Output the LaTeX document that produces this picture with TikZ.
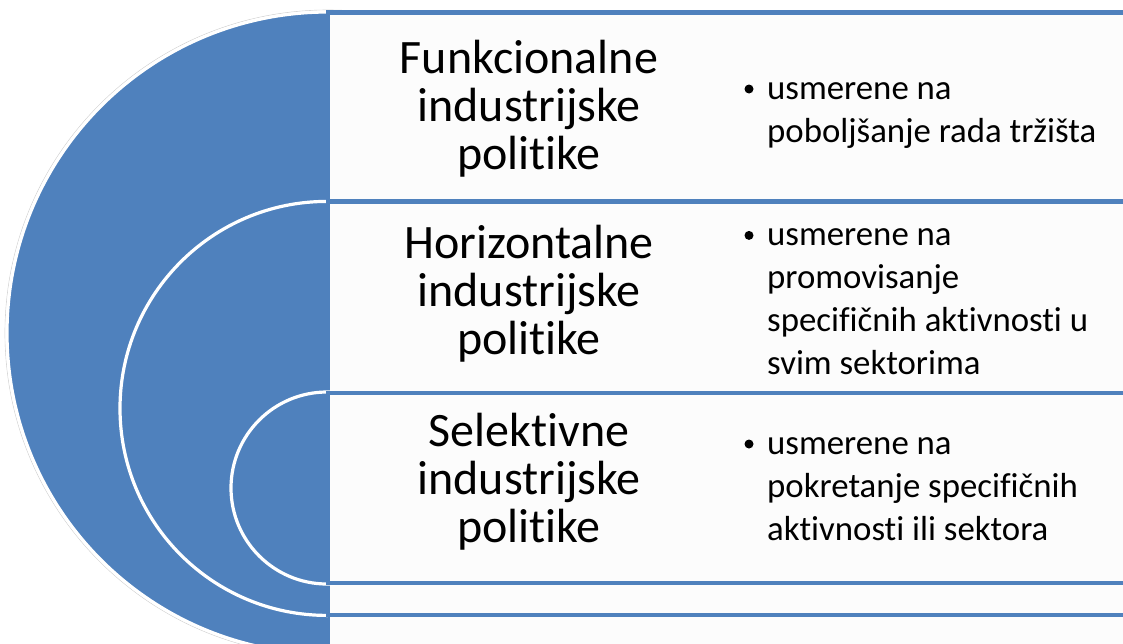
\documentclass[tikz,border=0pt]{standalone}
\usepackage{fontspec}
\setmainfont{Carlito}[Ligatures={NoCommon,NoContextual}, RawFeature={-liga;-clig;-calt;-dlig;-rlig}]
\newcommand{\nolig}{\kern0pt }
\definecolor{accent}{HTML}{4F81BD}
\definecolor{boxfill}{HTML}{FCFCFC}
\tikzset{
 disc/.style={fill=accent, draw=white, line width=3.2pt},
 band/.style={fill=boxfill, draw=accent, line width=4.7pt},
 title/.style={font=\fontsize{48}{48}\selectfont, align=center, inner sep=0pt, anchor=north},
 desc/.style={font=\fontsize{34.8}{43}\selectfont, align=left, inner sep=0pt, anchor=north west},
 dot/.style={circle, fill=black, inner sep=0pt, minimum size=9pt}
}
\begin{document}
\begin{tikzpicture}[x=1pt,y=-1pt]
\useasboundingbox (0,0) rectangle (1123,643);
\fill[white] (0,0) rectangle (1123,643);
\begin{scope}
\clip (0,0) rectangle (1123,643);
\draw[gray!35, line width=0.6pt] (328,333) circle[radius=323pt];
\draw[disc] (328,333) circle[radius=321pt];
\draw[band] (328,12.5) rectangle (1140,661);
\draw[disc] (327,408.4) circle[radius=207pt];
\draw[band] (328,201.7) rectangle (1140,615);
\draw[disc] (327,488) circle[radius=96pt];
\draw[band] (328,393) rectangle (1140,583);
\end{scope}
\node[title] (t1) at (529,37) {\rule{0pt}{36pt}Funkcionalne\\industrijske\\polit\nolig ike};
\node[title] (t2) at (529,222) {\rule{0pt}{36pt}Horizontalne\\industrijske\\polit\nolig ike};
\node[title] (t3) at (529,410.7) {\rule{0pt}{36pt}Selekt\nolig ivne\\industrijske\\polit\nolig ike};
\node[dot] (d1) at (749,89) {};
\node[dot] (d2) at (749,235.4) {};
\node[dot] (d3) at (749,444) {};
\node[desc] (b1) at (767,73.3) {\rule{0pt}{26pt}usmerene na\\poboljšanje rada tržišta};
\node[desc] (b2) at (767,219.7) {\rule{0pt}{26pt}usmerene na\\promovisanje\\specif\nolig ičnih akt\nolig ivnost\nolig i u\\svim sektorima};
\node[desc] (b3) at (767,428.3) {\rule{0pt}{26pt}usmerene na\\pokretanje specif\nolig ičnih\\akt\nolig ivnost\nolig i ili sektora};
\end{tikzpicture}
\end{document}
